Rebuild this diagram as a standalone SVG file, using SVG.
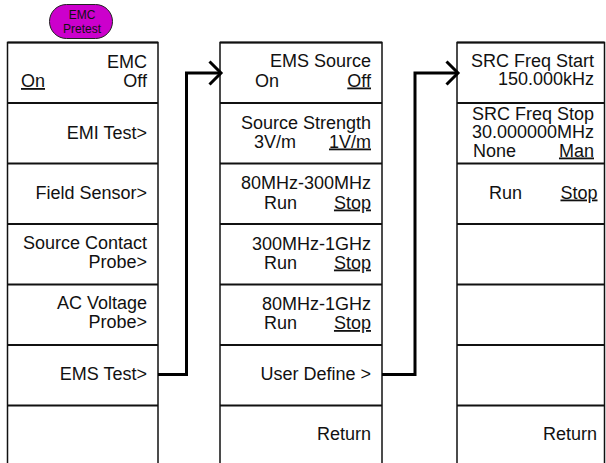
<svg xmlns="http://www.w3.org/2000/svg" width="606" height="463" viewBox="0 0 606 463">
<defs>
<style>
text{font-family:"Liberation Sans",Arial,sans-serif;font-size:18px;fill:#111;}
.r{text-anchor:end;}
.u{text-decoration:underline;}
.box{fill:#fff;stroke:#111;stroke-width:1.5;}
.div{stroke:#111;stroke-width:2;fill:none;}
.con{stroke:#000;stroke-width:3;fill:none;}
.pill{fill:#cc00cc;stroke:#222;stroke-width:1;}
.pt{font-size:12px;text-anchor:middle;}
</style>
</defs>
<rect width="606" height="463" fill="#fff"/>
<g id="emc-pretest">
<rect class="pill" x="49.5" y="4.5" width="63" height="34" rx="17" ry="17"/>
<text class="pt" x="82" y="19">EMC</text>
<text class="pt" x="82" y="33">Pretest</text>
</g>
<g id="menu1">
<rect class="box" x="7.5" y="42.5" width="150.5" height="440"/>
<path class="div" d="M7.5 42.5H158M7.5 103H158M7.5 163.5H158M7.5 224H158M7.5 284.5H158M7.5 345H158M7.5 405.5H158"/>
<text class="r" x="147" y="68">EMC</text>
<text class="u" x="21" y="87">On</text>
<text class="r" x="147" y="87">Off</text>
<text class="r" x="147" y="139">EMI Test&gt;</text>
<text class="r" x="147" y="198.5">Field Sensor&gt;</text>
<text class="r" x="147" y="248.5">Source Contact</text>
<text class="r" x="147" y="267.5">Probe&gt;</text>
<text class="r" x="147" y="309">AC Voltage</text>
<text class="r" x="147" y="328">Probe&gt;</text>
<text class="r" x="147" y="380">EMS Test&gt;</text>
</g>
<g id="menu2">
<rect class="box" x="220" y="42.5" width="162" height="440"/>
<path class="div" d="M220 42.5H382M220 103H382M220 163.5H382M220 224H382M220 284.5H382M220 345H382M220 405.5H382"/>
<text class="r" x="371" y="67">EMS Source</text>
<text x="255" y="86.5">On</text>
<text class="r u" x="371" y="86.5">Off</text>
<text class="r" x="371" y="129">Source Strength</text>
<text x="254" y="147.5">3V/m</text>
<text class="r u" x="371" y="147.5">1V/m</text>
<text class="r" x="371" y="189">80MHz-300MHz</text>
<text x="264" y="208.5">Run</text>
<text class="r u" x="371" y="208.5">Stop</text>
<text class="r" x="371" y="249.5">300MHz-1GHz</text>
<text x="264" y="268.5">Run</text>
<text class="r u" x="371" y="268.5">Stop</text>
<text class="r" x="371" y="310">80MHz-1GHz</text>
<text x="264" y="329">Run</text>
<text class="r u" x="371" y="329">Stop</text>
<text class="r" x="371" y="380">User Define &gt;</text>
<text class="r" x="371" y="440">Return</text>
</g>
<g id="menu3">
<rect class="box" x="457" y="42.5" width="147.5" height="440"/>
<path class="div" d="M457 42.5H604.5M457 103H604.5M457 163.5H604.5M457 224H604.5M457 284.5H604.5M457 345H604.5M457 405.5H604.5"/>
<text class="r" x="594" y="66.5">SRC Freq Start</text>
<text class="r" x="594" y="85">150.000kHz</text>
<text class="r" x="594" y="119.5">SRC Freq Stop</text>
<text class="r" x="594" y="138">30.000000MHz</text>
<text x="473" y="156.5">None</text>
<text class="r u" x="594" y="156.5">Man</text>
<text x="489" y="198.5">Run</text>
<text class="r u" x="597.5" y="198.5">Stop</text>
<text class="r" x="597" y="440">Return</text>
</g>
<g id="connectors">
<polyline class="con" points="158,374.5 186.5,374.5 186.5,73 219,73"/>
<polyline class="con" points="209.5,61.5 221,73 209.5,84.5"/>
<polyline class="con" points="382,374.5 415,374.5 415,73 456,73"/>
<polyline class="con" points="446.5,61.5 458,73 446.5,84.5"/>
</g>
</svg>
